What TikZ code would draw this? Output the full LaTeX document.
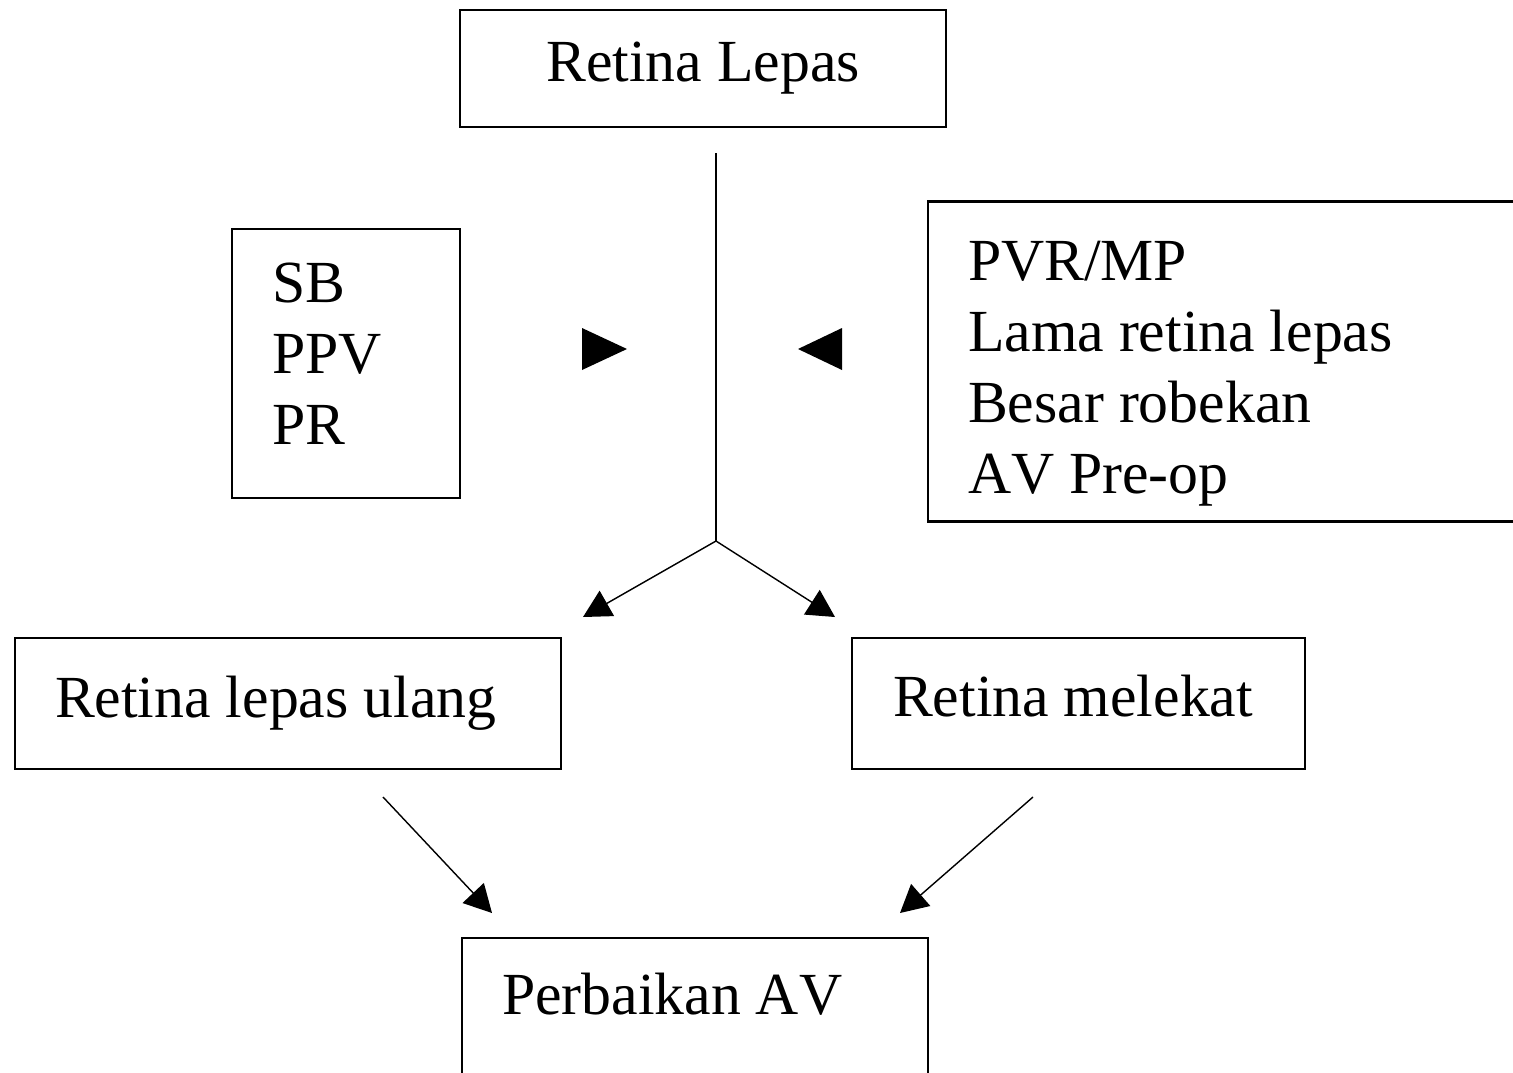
\documentclass[tikz,border=0pt]{standalone}
\usepackage{fontspec}
\setmainfont[Kerning=Off]{Liberation Serif}
\usetikzlibrary{arrows.meta}
\newcommand\boxfont{\fontsize{34}{40.5}\selectfont}

\begin{document}
\begin{tikzpicture}[
  box/.style={draw,line width=1.3pt,font=\boxfont},
  lbox/.style={box,align=flush left,inner ysep=0.3cm},
  link/.style={line width=0.8pt},
  tip/.style={link,-{Triangle[length=0.55cm,width=0.58cm]}}
]
\useasboundingbox (0,0) rectangle (30.26,-21.44);
\clip (0,0) rectangle (30.26,-21.44);

\node[box,align=center,minimum width=9.72cm,minimum height=2.34cm] (lepas) at (14.06,-1.37) {Retina Lepas};
\node[lbox,text width=2.96cm,inner xsep=0.8cm,text height=0.39cm,minimum height=5.38cm] (terapi) at (6.92,-7.27) {SB\\PPV\\PR};
\node[lbox,text width=10.34cm,inner xsep=0.8cm,text height=1.27cm,minimum height=6.34cm] (faktor) at (24.53,-7.23) {PVR/MP\\Lama retina lepas\\Besar robekan\\AV Pre-op};
\node[lbox,text width=9.32cm,inner xsep=0.8cm,minimum height=2.62cm] (ulang) at (5.76,-14.07) {Retina lepas ulang};
\node[lbox,text width=7.42cm,inner xsep=0.82cm,text depth=0.3cm,minimum height=2.62cm] (melekat) at (21.57,-14.07) {Retina melekat};
\node[lbox,anchor=north,text width=7.72cm,inner xsep=0.8cm,text height=1.22cm,text depth=2cm] (perbaikan) at (13.9,-18.74) {Perbaikan AV};

\coordinate (stem) at (14.32,-3.06);
\coordinate (fork) at (14.32,-10.82);
\coordinate (kiri) at (11.66,-12.34);
\coordinate (kanan) at (16.7,-12.34);
\coordinate (dariulang) at (7.66,-15.94);
\coordinate (darimelekat) at (20.66,-15.94);
\coordinate (kebawah1) at (9.84,-18.26);
\coordinate (kebawah2) at (18.0,-18.26);

\draw[link] (stem) -- (fork);
\draw[tip] (fork) -- (kiri);
\draw[tip] (fork) -- (kanan);
\draw[tip] (dariulang) -- (kebawah1);
\draw[tip] (darimelekat) -- (kebawah2);

% side pointers
\fill (11.64,-6.56) -- (12.54,-6.98) -- (11.64,-7.4) -- cycle;
\fill (16.84,-6.56) -- (15.96,-6.98) -- (16.84,-7.4) -- cycle;

\end{tikzpicture}
\end{document}
